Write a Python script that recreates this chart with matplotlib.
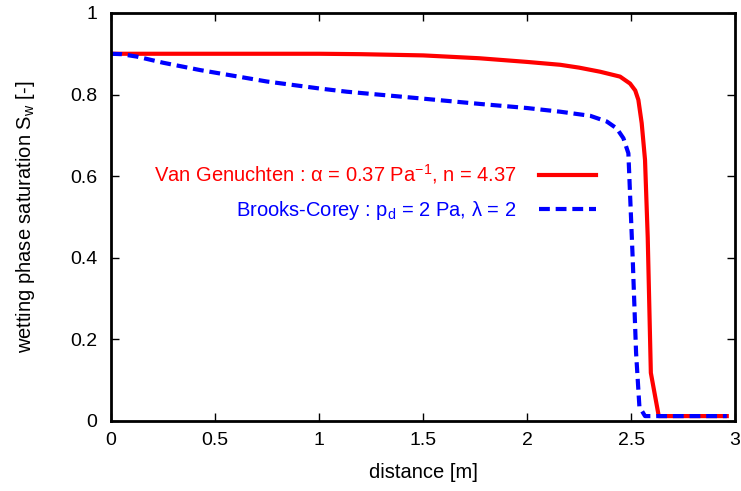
import numpy as np
import matplotlib.pyplot as plt
from matplotlib.ticker import FormatStrFormatter

plt.rcParams['font.family'] = ['Liberation Sans', 'DejaVu Sans']
plt.rcParams['mathtext.default'] = 'regular'

# Van Genuchten curve
x_vg = [0.0, 0.5, 1.0, 1.2, 1.5, 1.77, 2.0, 2.159, 2.25, 2.351, 2.447, 2.495, 2.52, 2.535,
        2.551, 2.567, 2.58, 2.595, 2.633, 2.96]
s_vg = [0.9, 0.9, 0.9, 0.899, 0.896, 0.889, 0.880, 0.873, 0.866, 0.856, 0.844, 0.827, 0.81, 0.787,
        0.730, 0.640, 0.45, 0.118, 0.012, 0.012]

# Brooks-Corey curve
x_bc = [0.0, 0.05, 0.124, 0.25, 0.428, 0.6, 0.749, 1.0, 1.133, 1.5, 1.774, 2.0, 2.159, 2.303,
        2.383, 2.431, 2.463, 2.487, 2.508, 2.524, 2.54, 2.567, 2.96]
s_bc = [0.9, 0.899, 0.893, 0.878, 0.860, 0.845, 0.832, 0.815, 0.807, 0.790, 0.777, 0.767, 0.758, 0.748,
        0.734, 0.717, 0.693, 0.656, 0.395, 0.167, 0.035, 0.012, 0.012]

label_vg = 'Van Genuchten : α = 0.37 Pa$^{-1}$, n = 4.37'
label_bc = 'Brooks-Corey : p$_d$ = 2 Pa, λ = 2'

fig = plt.figure(figsize=(7.41, 4.91), dpi=100)
ax = fig.add_axes([0.150, 0.1426, 0.842, 0.831])

ax.plot(x_vg, s_vg, color='#ff0000', lw=3.0, label=label_vg)
ax.plot(x_bc, s_bc, color='#0000ff', lw=3.0, dashes=(2.6, 1.4), label=label_bc)

ax.set_xlim(0, 3)
ax.set_ylim(0, 1)
ax.set_xticks(np.arange(0, 3.01, 0.5))
ax.set_yticks(np.arange(0, 1.01, 0.2))
ax.xaxis.set_major_formatter(FormatStrFormatter('%g'))
ax.yaxis.set_major_formatter(FormatStrFormatter('%g'))
ax.tick_params(direction='in', length=6, width=1, top=True, right=True, labelsize=14)
ax.tick_params(axis='x', pad=8)
ax.tick_params(axis='y', pad=10)
for sp in ax.spines.values():
    sp.set_linewidth(2)

ax.set_xlabel('distance [m]', fontsize=14.5, labelpad=10)
ax.set_ylabel('wetting phase saturation S$_w$ [-]', fontsize=14.5, labelpad=24)

leg = ax.legend(loc='center right', bbox_to_anchor=(0.806, 0.561), frameon=False,
                markerfirst=False, fontsize=14.5, handlelength=2.85, labelspacing=0.6,
                handletextpad=1.1)
for txt, c in zip(leg.get_texts(), ['#ff0000', '#0000ff']):
    txt.set_color(c)

fig.savefig('out.png', dpi=100)
